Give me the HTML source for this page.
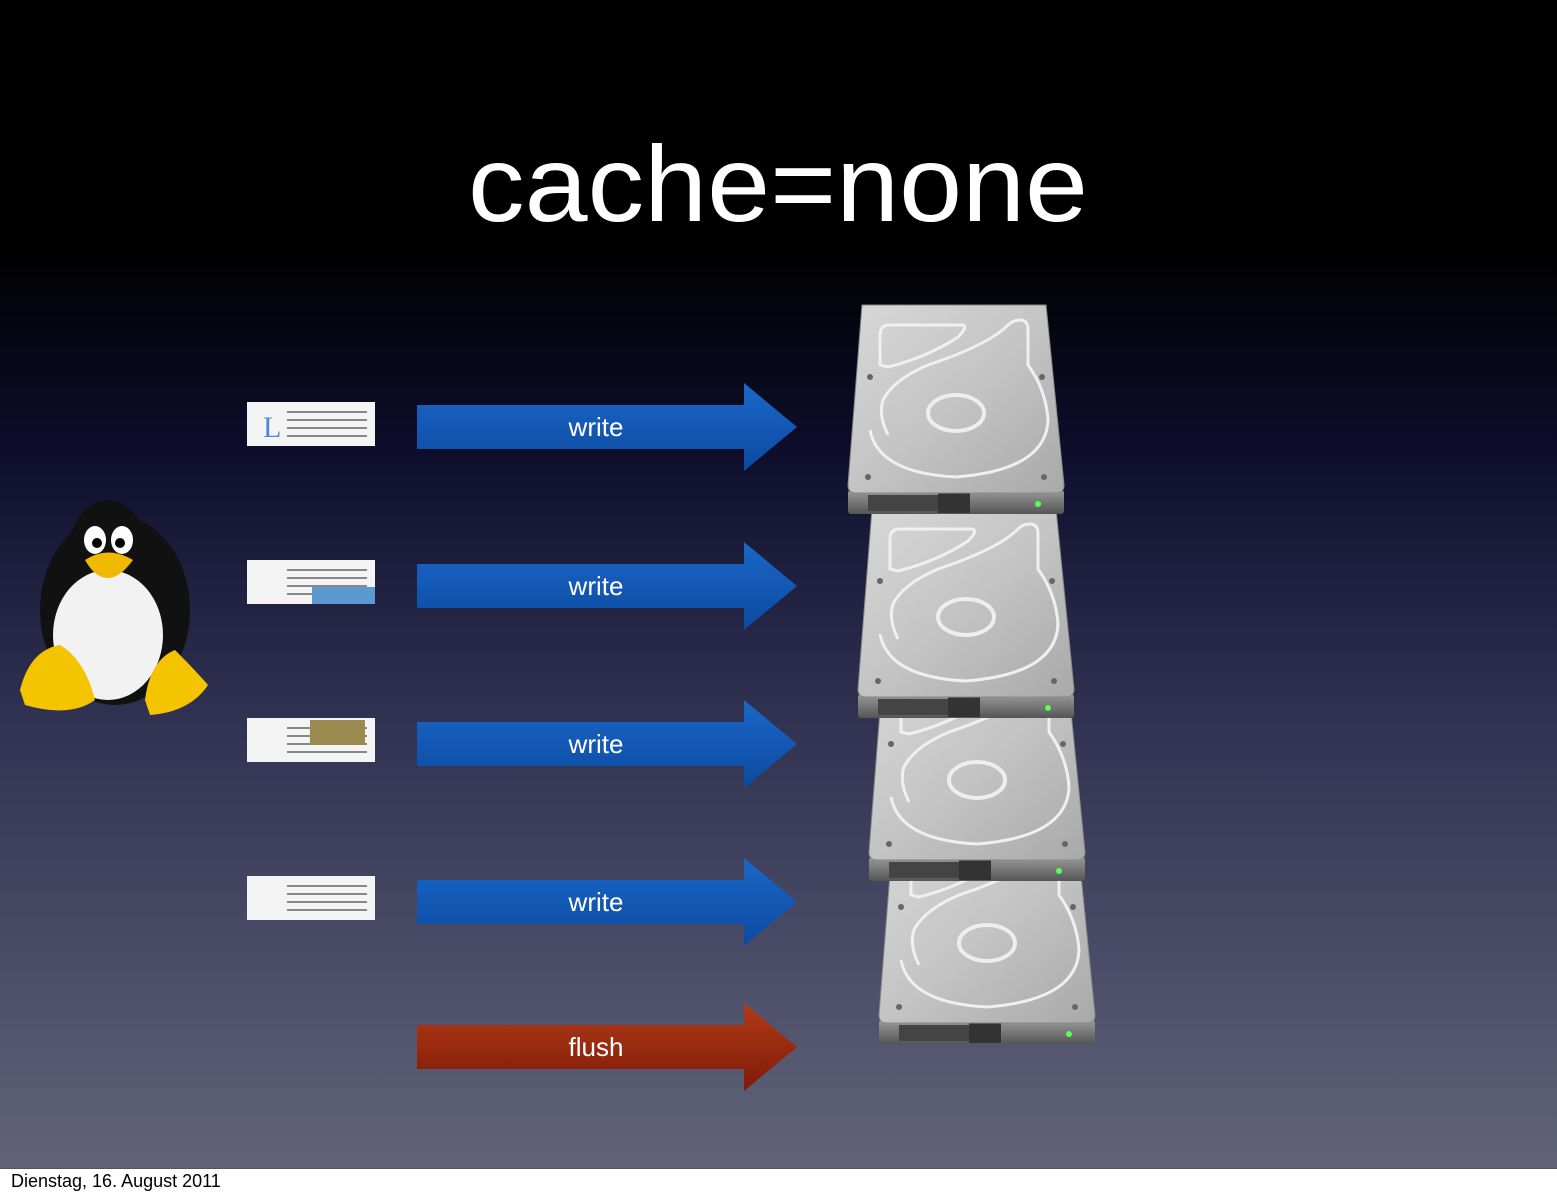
<!DOCTYPE html>
<html><head><meta charset="utf-8"><style>
html,body{margin:0;padding:0;background:#fff;}
body{width:1557px;height:1199px;overflow:hidden;position:relative;font-family:"Liberation Sans",sans-serif;}
svg{position:absolute;left:0;top:0;}
.foot{position:absolute;left:11px;top:1171px;font-size:18px;color:#000;}
</style></head><body>
<svg width="1557" height="1199" viewBox="0 0 1557 1199">
<defs>
<linearGradient id="bg" x1="0" y1="0" x2="0" y2="1">
<stop offset="0" stop-color="#000"/><stop offset="0.21" stop-color="#000"/>
<stop offset="0.38" stop-color="#0d0d2b"/><stop offset="0.6" stop-color="#2f3050"/>
<stop offset="1" stop-color="#62637a"/></linearGradient>
<linearGradient id="blue" x1="0" y1="0" x2="0" y2="1"><stop offset="0" stop-color="#1a67c8"/><stop offset="1" stop-color="#0c4aa0"/></linearGradient>
<linearGradient id="red" x1="0" y1="0" x2="0" y2="1"><stop offset="0" stop-color="#b23a18"/><stop offset="1" stop-color="#7e1a06"/></linearGradient>
<linearGradient id="metal" x1="0" y1="0" x2="1" y2="1"><stop offset="0" stop-color="#d8d8d8"/><stop offset="0.5" stop-color="#c4c4c4"/><stop offset="1" stop-color="#a9a9a9"/></linearGradient>
<linearGradient id="bez" x1="0" y1="0" x2="0" y2="1"><stop offset="0" stop-color="#9a9a9a"/><stop offset="1" stop-color="#555"/></linearGradient>
<clipPath id="dc"><path d="M14 0 H198 L216 180 Q216 188 208 188 H8 Q0 188 0 180 Z"/></clipPath>
<g id="disk">
<rect x="0" y="185" width="216" height="24" rx="3" fill="url(#bez)"/>
<rect x="20" y="190" width="70" height="16" fill="#444"/>
<rect x="90" y="188" width="32" height="20" fill="#333"/>
<circle cx="190" cy="199" r="3" fill="#5f5"/>
<path d="M14 0 H198 L216 180 Q216 188 208 188 H8 Q0 188 0 180 Z" fill="url(#metal)" stroke="#888"/>
<g clip-path="url(#dc)" fill="none" stroke="#f0f0f0" stroke-width="3">
<path d="M40 130 Q30 110 35 95 Q45 75 80 60 Q140 40 160 20 Q165 15 172 15 Q180 15 180 25 V60 Q198 85 200 115 Q198 165 108 172 Q30 168 22 125"/>
<path d="M32 60 V30 Q32 20 42 20 H115 Q120 22 110 32 Q80 52 40 62 Z"/>
</g>
<ellipse cx="108" cy="108" rx="28" ry="18" fill="none" stroke="#eee" stroke-width="4"/>
<circle cx="20" cy="172" r="3" fill="#666"/><circle cx="196" cy="172" r="3" fill="#666"/>
<circle cx="22" cy="72" r="3" fill="#666"/><circle cx="194" cy="72" r="3" fill="#666"/>
</g>
<g id="doc"><rect x="0" y="0" width="128" height="44" fill="#f4f4f4"/>
<g stroke="#888" stroke-width="2"><line x1="40" y1="10" x2="120" y2="10"/><line x1="40" y1="18" x2="120" y2="18"/><line x1="40" y1="26" x2="120" y2="26"/><line x1="40" y1="34" x2="120" y2="34"/></g></g>
</defs>
<rect width="1557" height="1169" fill="url(#bg)"/>
<line x1="0" y1="1168.5" x2="1557" y2="1168.5" stroke="#555"/>
<text x="778" y="221" text-anchor="middle" font-size="108" fill="#fff" textLength="620" lengthAdjust="spacingAndGlyphs">cache=none</text>

<ellipse cx="115" cy="610" rx="75" ry="95" fill="#111"/>
<ellipse cx="108" cy="555" rx="40" ry="55" fill="#111"/>
<ellipse cx="108" cy="635" rx="55" ry="65" fill="#f2f2f2"/>
<ellipse cx="95" cy="540" rx="11" ry="14" fill="#fff"/><ellipse cx="122" cy="540" rx="11" ry="14" fill="#fff"/>
<circle cx="97" cy="543" r="5" fill="#000"/><circle cx="120" cy="543" r="5" fill="#000"/>
<path d="M85 560 Q108 545 133 560 Q120 578 108 578 Q95 578 85 560Z" fill="#f0b800"/>
<path d="M20 690 Q30 650 60 645 Q85 660 95 700 Q70 718 25 705Z" fill="#f5c400"/>
<path d="M145 700 Q150 660 175 650 Q195 670 208 685 Q190 712 150 715Z" fill="#f5c400"/>

<use href="#doc" x="247" y="402"/><use href="#doc" x="247" y="560"/><use href="#doc" x="247" y="718"/><use href="#doc" x="247" y="876"/>
<text x="263" y="437" font-family="Liberation Serif" font-size="30" fill="#4a8ad8">L</text>
<rect x="312" y="587" width="63" height="17" fill="#5a9ad0"/>
<rect x="310" y="720" width="55" height="25" fill="#9a8a50"/>

<use href="#disk" x="879" y="835"/>
<use href="#disk" x="869" y="672"/>
<use href="#disk" x="858" y="509"/>
<use href="#disk" x="848" y="305"/>

<g font-size="26" fill="#fff" text-anchor="middle">
<path d="M417 405 H744 V383 L797 427 L744 471 V449 H417Z" fill="url(#blue)"/><text x="596" y="436">write</text>
<path d="M417 564 H744 V542 L797 586 L744 630 V608 H417Z" fill="url(#blue)"/><text x="596" y="595">write</text>
<path d="M417 722 H744 V700 L797 744 L744 788 V766 H417Z" fill="url(#blue)"/><text x="596" y="753">write</text>
<path d="M417 880 H744 V858 L797 902 L744 946 V924 H417Z" fill="url(#blue)"/><text x="596" y="911">write</text>
<path d="M417 1025 H744 V1003 L797 1047 L744 1091 V1069 H417Z" fill="url(#red)"/><text x="596" y="1056">flush</text>
</g>
</svg>
<div class="foot">Dienstag, 16. August 2011</div>
</body></html>
